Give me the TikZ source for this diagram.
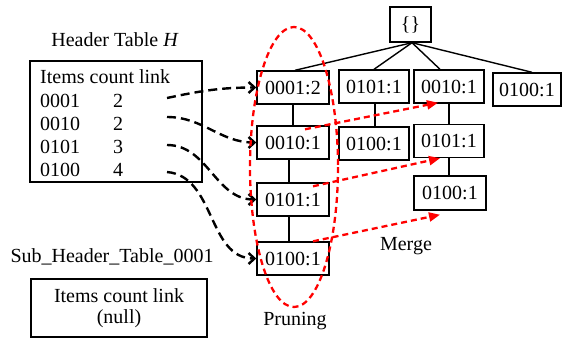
\documentclass[tikz,border=0pt]{standalone}
\usepackage{fontspec}
\setmainfont{Liberation Serif}
\usetikzlibrary{arrows.meta,calc}
\begin{document}
\begin{tikzpicture}[x=1pt,y=-1pt,
  font=\fontsize{20}{21}\selectfont,
  box/.style={draw, line width=1.4pt, minimum width=72pt, minimum height=33pt, inner sep=0pt},
  tree/.style={line width=1.4pt},
  link/.style={line width=2.4pt, dash pattern=on 9pt off 5pt, -{Straight Barb[length=6pt,width=11pt]}},
  merge/.style={red, line width=2.3pt, dash pattern=on 6pt off 4pt, -{Triangle[length=11pt,width=9pt]}},
  lbl/.style={inner sep=0pt}]
\useasboundingbox (0,0) rectangle (562,338);

% header table
\node[lbl] (htitle) at (115,40) {Header Table \textit{H}};
\node[draw, line width=1.4pt, minimum width=172pt, minimum height=121pt, inner sep=0pt] (H) at (116,121.5) {};
\node[lbl, anchor=west] (hhead) at (40,77) {Items count link};
\node[lbl, anchor=west] (i1) at (40,101) {0001};
\node[lbl, anchor=west] (i2) at (40,124) {0010};
\node[lbl, anchor=west] (i3) at (40,147) {0101};
\node[lbl, anchor=west] (i4) at (40,170) {0100};
\node[lbl] (c1) at (118,101) {2};
\node[lbl] (c2) at (118,124) {2};
\node[lbl] (c3) at (118,147) {3};
\node[lbl] (c4) at (118,170) {4};
\coordinate (l1) at (167,98);
\coordinate (l2) at (167,117);
\coordinate (l3) at (167,145);
\coordinate (l4) at (167,172);

% sub header table
\node[lbl] (stitle) at (112,257) {Sub\_Header\_Table\_0001};
\node[draw, line width=1.4pt, minimum width=176pt, minimum height=58pt, inner sep=0pt, align=center] (S) at (119,308) {Items count link\\(null)};

% tree
\node[box, minimum width=41pt, minimum height=35pt] (root) at (410.5,24.5) {\{\}};
\node[box] (A1) at (293,87.5) {0001:2};
\node[box] (A2) at (293,142.5) {0010:1};
\node[box] (A3) at (293,199.5) {0101:1};
\node[box] (A4) at (293,258.5) {0100:1};
\node[box, minimum width=70pt] (B1) at (374,86.5) {0101:1};
\node[box, minimum width=70pt] (B2) at (374,143.5) {0100:1};
\node[box, minimum width=70pt] (C1) at (449,86.5) {0010:1};
\node[box, minimum width=70pt] (C2) at (449,141) {0101:1};
\node[box, minimum width=72pt, minimum height=34pt] (C3) at (450,193) {0100:1};
\node[box, minimum width=68pt] (D1) at (527,89.5) {0100:1};

\draw[tree] ($(root.south)+(1.5,0)$) -- ($(A1.north)+(2,0)$);
\draw[tree] ($(root.south)+(1.5,0)$) -- (B1.north);
\draw[tree] ($(root.south)+(1.5,0)$) -- ($(C1.north)+(-9,0)$);
\draw[tree] ($(root.south)+(1.5,0)$) -- ($(D1.north)+(5,0)$);
\draw[tree] (A1) -- (A2);
\draw[tree] ($(A2.south)+(-4,0)$) -- ($(A3.north)+(-4,0)$);
\draw[tree] ($(A3.south)+(-4,0)$) -- ($(A4.north)+(-4,0)$);
\draw[tree] ($(B1.south)+(1,0)$) -- ($(B2.north)+(1,0)$);
\draw[tree] (C1) -- (C2);
\draw[tree] (C2.south) -- ($(C3.north)+(-1,0)$);

% links
\draw[link] (l1) to[out=12,in=180] (A1.west);
\draw[link] (l2) to[out=0,in=180] (A2.west);
\draw[link] (l3) to[out=0,in=180] (A3.west);
\draw[link] (l4) to[out=-5,in=180] (A4.west);

% pruning ellipse
\draw[red, line width=2.3pt, dash pattern=on 6pt off 4pt] (294,167) ellipse [x radius=44, y radius=140];
\node[lbl] (prune) at (295,321) {Pruning};

% merge arrows
\draw[merge] ($(A2.north)+(12,4)$) -- ($(C1.south)+(-11,-1)$);
\draw[merge] ($(A3.north)+(20,4)$) -- ($(C2.south)+(-9,0)$);
\draw[merge] ($(A4.north)+(20,0)$) -- ($(C3.south)+(-10,4)$);
\node[lbl] (mergelbl) at (406,246) {Merge};
\end{tikzpicture}
\end{document}
